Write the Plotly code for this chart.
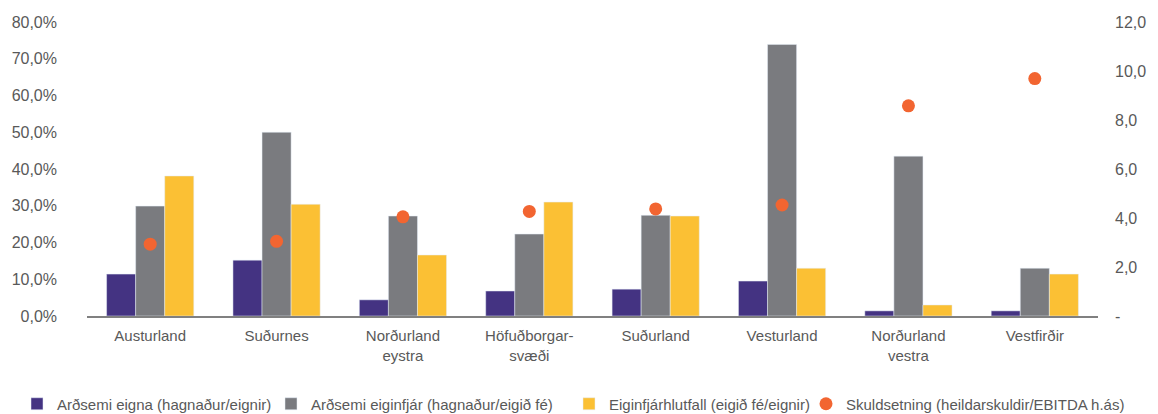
import plotly.graph_objects as go

regions = ["Austurland", "Suðurnes", "Norðurland<br>eystra", "Höfuðborgar-<br>svæði",
           "Suðurland", "Vesturland", "Norðurland<br>vestra", "Vestfirðir"]

roa = [0.114, 0.152, 0.044, 0.068, 0.073, 0.095, 0.014, 0.014]
roe = [0.299, 0.500, 0.272, 0.223, 0.274, 0.739, 0.435, 0.130]
equity_ratio = [0.381, 0.304, 0.166, 0.310, 0.272, 0.130, 0.030, 0.114]
debt_ebitda = [2.93, 3.05, 4.05, 4.27, 4.37, 4.53, 8.58, 9.69]

right_tickvals = [0, 2, 4, 6, 8, 10, 12]
right_ticktext = ["-", "2,0", "4,0", "6,0", "8,0", "10,0", "12,0"]

FONT = "Liberation Sans, Arial, sans-serif"
TXT = "#595959"
W, H = 1158, 414

fig = go.Figure()
fig.add_trace(go.Bar(x=regions, y=roa, name="Arðsemi eigna (hagnaður/eignir)",
                     marker_color="#443382", legend="legend"))
fig.add_trace(go.Bar(x=regions, y=roe, name="Arðsemi eiginfjár (hagnaður/eigið fé)",
                     marker_color="#7a7b7f", legend="legend2"))
fig.add_trace(go.Bar(x=regions, y=equity_ratio, name="Eiginfjárhlutfall (eigið fé/eignir)",
                     marker_color="#fbc034", legend="legend3"))
fig.add_trace(go.Scatter(x=regions, y=debt_ebitda, yaxis="y2", mode="markers",
                         name="Skuldsetning (heildarskuldir/EBITDA h.ás)",
                         marker=dict(color="#f26531", size=13), legend="legend4"))


def legend_box(left_px):
    # one single-entry legend placed along the bottom row
    return dict(orientation="h", xref="container", yref="container",
                x=left_px / W, xanchor="left", y=10 / H, yanchor="middle",
                font=dict(size=15, color=TXT), itemwidth=30,
                bgcolor="rgba(0,0,0,0)")


fig.update_layout(
    width=W, height=H,
    margin=dict(l=86, r=58, t=22, b=98),
    paper_bgcolor="white", plot_bgcolor="white",
    separators=",.",
    barmode="group", bargap=0.31, bargroupgap=0,
    font=dict(family=FONT, size=16, color=TXT),
    showlegend=True,
    legend=legend_box(17),
    legend2=legend_box(271),
    legend3=legend_box(569),
    legend4=legend_box(806),
    xaxis=dict(showgrid=False, showline=True, linecolor="#808080", linewidth=2,
               ticks="", ticklabelstandoff=5, tickfont=dict(size=15, color=TXT)),
    yaxis=dict(range=[0, 0.8], dtick=0.1, tickformat=".1%", showgrid=False,
               zeroline=False, showline=False, ticks="", ticklabelstandoff=29,
               tickfont=dict(size=16, color=TXT)),
    yaxis2=dict(range=[0, 12], overlaying="y", side="right", tickvals=right_tickvals,
                ticktext=right_ticktext, showgrid=False, zeroline=False, showline=False,
                ticks="", ticklabelstandoff=16, tickfont=dict(size=16, color=TXT)),
)

fig.write_html("out.html")
